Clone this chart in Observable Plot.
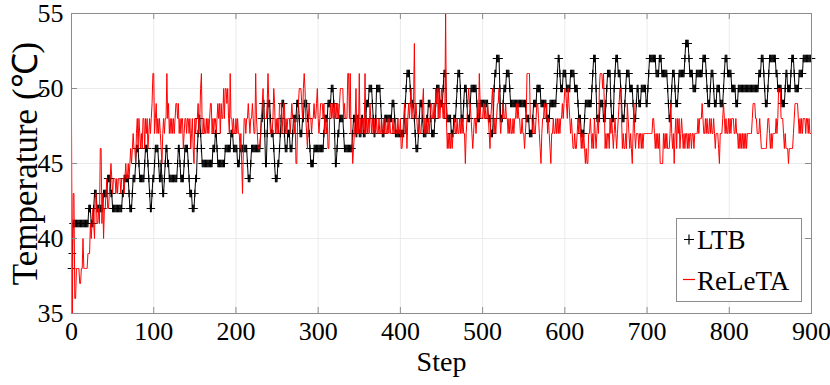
<!DOCTYPE html>
<html>
<head>
<meta charset="utf-8">
<script src="https://cdn.jsdelivr.net/npm/d3@7"></script>
<script src="https://cdn.jsdelivr.net/npm/@observablehq/plot@0.6"></script>
<style>
  html, body { margin: 0; padding: 0; background: #fff; }
  #chart { width: 830px; height: 385px; }
  .legend text { font-family: 'Liberation Serif', 'Times New Roman', serif; }
</style>
</head>
<body>
<div id="chart"></div>
<script>
// Tick values
const xTicks = [0, 100, 200, 300, 400, 500, 600, 700, 800, 900];
const yTicks = [35, 40, 45, 50, 55];
const seriesNames = ["LTB", "ReLeTA"];

// LTB temperature per step (0..900)
const ltbValues = [
38,39,41,41,41,41,41,41,41,41,
41,41,41,41,41,41,41,41,41,41,
41,42,42,42,41,41,41,42,43,43,
43,42,42,42,42,42,42,42,42,43,
43,43,43,43,44,44,44,44,43,43,
42,42,42,42,42,42,42,42,42,42,
42,42,43,43,44,44,44,44,44,44,
43,42,42,42,43,44,44,44,45,46,
46,46,45,44,44,44,44,44,44,45,
46,46,46,45,44,43,42,42,43,44,
44,45,46,46,46,46,45,44,44,45,
44,43,43,44,45,46,46,45,45,44,
44,44,44,44,44,44,44,44,44,45,
46,46,45,44,44,44,44,45,46,46,
46,46,45,44,43,43,43,42,42,42,
43,44,44,46,47,48,48,47,46,45,
45,45,45,45,45,45,45,45,45,45,
45,45,46,46,46,47,47,46,45,45,
45,45,45,45,45,45,45,46,46,46,
46,46,46,46,47,47,47,46,46,46,
46,46,45,45,45,46,46,46,46,46,
46,46,46,46,45,44,44,44,45,46,
46,46,46,46,46,46,46,46,46,46,
47,48,48,49,49,47,45,45,47,49,
49,49,48,47,47,47,46,45,44,44,
44,45,45,46,47,48,49,49,49,47,
46,46,46,47,47,47,46,46,46,47,
48,48,48,48,49,49,49,48,47,47,
47,48,48,49,49,49,49,48,48,47,
46,45,45,45,45,46,46,46,46,46,
46,46,46,46,46,46,46,47,48,48,
48,48,49,49,49,49,50,50,50,49,
47,45,45,46,47,47,48,48,48,48,
48,47,46,46,46,46,46,46,46,46,
46,46,47,48,48,48,47,47,48,48,
47,47,47,48,48,47,47,47,48,49,
49,49,50,50,50,50,49,48,47,47,
48,50,50,50,50,50,49,48,47,47,
47,48,48,48,48,48,48,48,48,48,
49,49,49,48,47,47,47,47,47,47,
47,47,47,47,47,48,49,50,51,51,
51,51,50,49,49,49,49,48,47,46,
46,46,47,48,49,49,49,48,47,47,
47,47,48,48,49,49,49,48,47,47,
47,47,48,49,50,50,50,50,49,49,
49,49,50,51,51,51,49,48,48,48,
48,48,47,47,47,48,48,48,49,50,
51,51,51,50,48,48,48,49,50,50,
50,49,48,48,48,49,50,50,50,50,
50,50,50,49,48,48,48,49,49,49,
49,49,49,49,49,49,49,48,48,48,
47,47,47,48,50,51,51,52,52,52,
52,50,48,48,48,49,50,50,50,51,
51,51,51,50,49,49,49,49,49,49,
49,49,49,49,49,49,49,49,49,49,
49,49,49,48,48,48,48,47,47,47,
47,48,49,49,49,49,50,50,50,50,
50,49,49,49,49,49,49,49,48,48,
48,48,49,49,49,49,49,49,49,49,
50,51,52,52,51,50,50,50,51,51,
51,51,50,50,50,50,50,51,51,51,
51,51,50,50,50,50,49,48,48,48,
47,47,47,47,48,49,49,49,49,49,
49,49,49,50,51,52,52,52,50,48,
48,48,48,49,49,49,49,48,48,48,
49,50,51,51,51,51,49,48,48,48,
50,51,52,52,52,51,51,51,50,49,
48,48,48,49,50,51,51,51,51,50,
50,50,50,49,48,48,48,49,50,50,
49,49,49,50,50,50,50,50,50,49,
49,50,51,52,52,52,52,52,52,52,
52,51,51,51,51,52,52,52,51,51,
51,51,51,51,51,50,49,48,48,49,
50,51,51,51,50,49,49,49,50,51,
51,51,51,51,51,51,52,53,53,53,
53,52,51,51,51,51,50,50,50,50,
51,51,51,51,51,51,51,51,52,52,
52,52,51,50,49,49,49,50,51,51,
51,50,49,49,49,50,50,50,50,49,
49,49,49,50,51,52,52,52,51,51,
51,51,51,50,50,50,50,50,49,49,
49,50,50,50,50,50,50,50,50,50,
50,50,50,50,50,50,50,50,50,50,
50,50,50,50,50,50,51,51,51,52,
52,52,51,50,49,49,49,50,51,52,
52,52,52,52,52,52,52,51,51,50,
50,50,50,50,49,49,49,49,50,51,
51,50,50,50,50,51,52,52,52,51,
50,50,50,50,50,51,51,51,51,51,
52,52,52,52,52,52,52,52,52,52,
52
];

// ReLeTA temperature per step (0..900)
const reletaValues = [
48,35,43,43,36,36,38,38,38,38,
37,37,38,38,40,38,38,38,38,38,
39,39,39,41,40,41,42,41,40,43,
43,41,41,42,41,46,46,41,43,40,
42,42,43,44,42,42,43,44,45,44,
43,44,44,44,43,44,43,44,44,44,
43,44,44,44,43,44,45,44,44,45,
44,45,46,45,46,47,46,46,45,47,
48,46,48,47,46,47,46,48,48,46,
48,47,48,46,47,48,47,48,49,51,
51,47,48,49,47,48,47,48,47,46,
45,47,48,47,48,48,51,48,49,47,
48,47,48,47,48,47,48,49,49,48,
49,47,48,47,48,48,46,47,48,48,
47,48,48,47,48,46,47,48,46,45,
48,47,48,48,49,47,48,50,51,47,
47,48,47,47,48,47,48,47,48,49,
49,47,48,47,48,48,47,48,49,48,
49,47,49,48,48,50,48,50,50,49,
50,48,47,51,48,48,47,48,47,47,
48,47,48,47,47,46,47,45,43,46,
48,48,47,48,48,49,48,47,48,48,
49,48,47,47,51,48,47,46,46,46,
47,48,49,50,48,48,48,48,49,51,
49,48,47,47,47,48,50,49,47,48,
47,48,47,49,49,49,47,48,49,49,
47,48,47,48,48,48,47,48,49,48,
48,47,48,45,45,48,49,50,50,50,
49,48,50,51,50,48,47,46,48,49,
48,48,47,48,48,49,48,48,49,50,
48,47,48,49,49,49,48,49,47,48,
47,48,46,46,48,49,48,49,48,48,
49,48,49,48,49,48,49,50,50,50,
50,48,49,48,48,48,51,51,48,51,
47,47,45,46,47,48,50,47,48,47,
51,47,48,47,48,48,47,51,47,48,
47,48,47,49,48,47,48,47,48,47,
47,48,47,47,48,47,47,48,47,47,
48,47,48,47,47,48,47,48,47,47,
47,48,47,47,48,47,47,48,47,47,
48,46,46,47,48,49,47,48,46,48,
49,48,49,50,48,49,49,53,48,49,
48,47,47,48,47,47,48,49,50,47,
48,47,48,47,48,47,48,49,49,48,
48,49,48,50,49,50,48,50,48,49,
50,49,48,49,48,55,48,46,47,46,
47,46,47,46,47,47,48,47,47,48,
47,47,48,47,48,47,48,47,47,45,
47,48,49,50,49,49,48,47,46,47,
48,48,47,48,49,48,51,49,48,48,
48,49,48,49,48,48,49,48,47,46,
48,49,50,48,47,48,47,48,49,49,
50,48,47,48,48,49,48,48,49,48,
48,47,48,47,48,47,47,48,47,48,
48,49,48,49,48,48,47,47,48,47,
47,46,47,48,51,51,51,51,48,48,
48,47,48,47,47,48,49,49,48,47,
46,45,47,48,48,49,48,48,49,47,
48,47,46,45,47,47,48,47,47,48,
47,48,47,48,47,48,48,49,48,49,
50,50,49,48,50,49,48,47,48,47,
46,46,47,46,46,47,48,47,48,47,
46,47,46,47,46,45,46,45,45,47,
47,48,47,46,47,46,48,47,46,47,
48,47,50,51,51,51,50,51,49,46,
47,46,47,47,46,48,47,48,47,46,
47,48,47,46,47,48,49,50,50,48,
46,47,46,46,47,46,49,48,47,46,
47,46,45,47,49,47,46,47,47,47,
46,47,47,46,47,46,47,47,47,47,
47,47,47,47,47,47,47,48,48,47,
46,47,46,47,46,47,45,45,45,45,
47,46,47,46,47,46,46,46,47,49,
47,46,47,45,47,48,46,48,47,48,
46,47,48,47,46,47,46,47,47,46,
47,46,47,47,46,47,47,46,47,47,
47,47,48,47,48,48,48,49,48,47,
47,48,47,48,47,47,48,47,48,47,
47,48,47,46,47,47,47,46,45,47,
47,47,48,49,48,47,48,47,47,48,
47,48,47,48,48,48,47,47,48,47,
47,46,47,46,47,46,47,46,47,46,
47,46,47,47,47,47,47,47,48,49,
49,49,48,48,47,47,47,48,47,46,
46,46,46,46,46,46,47,48,48,47,
46,47,46,47,47,47,47,48,47,48,
50,50,50,48,48,48,47,46,47,46,
46,46,45,46,46,46,46,46,47,48,
49,49,49,49,48,47,48,47,48,47,
48,48,48,47,48,48,47,48,47,47,
47
];

const ltb = ltbValues.map((v, i) => ({step: i, temp: v}));
const releta = reletaValues.map((v, i) => ({step: i, temp: v}));

const W = 830, H = 385;
const mL = 71, mR = 19, mT = 13, mB = 72;
const innerH = H - mT - mB, innerW = W - mL - mR;
const font = "'Liberation Serif', 'Times New Roman', serif";
const axisColor = "#8c8c8c";
const gridColor = "#ebebeb";

const plot = Plot.plot({
  width: W,
  height: H,
  marginLeft: mL,
  marginRight: mR,
  marginTop: mT,
  marginBottom: mB,
  x: {domain: [0, 900]},
  y: {domain: [35, 55]},
  style: {fontFamily: font, fontSize: "26px", background: "#fff", color: "#000"},
  marks: [
    Plot.ruleX(xTicks, {x: d => d, stroke: gridColor, strokeWidth: 1}),
    Plot.ruleY(yTicks, {y: d => d, stroke: gridColor, strokeWidth: 1}),
    Plot.line(ltb, {x: "step", y: "temp", stroke: "#000", strokeWidth: 1}),
    Plot.dot(ltb, {x: "step", y: "temp", symbol: "plus", r: 2.6, stroke: "#000", fill: "none", strokeWidth: 1.1}),
    Plot.line(releta, {x: "step", y: "temp", stroke: "#ff0000", strokeWidth: 1}),
    Plot.frame({stroke: axisColor, strokeWidth: 1}),
    // inward ticks
    Plot.ruleX(xTicks, {x: d => d, stroke: axisColor, insetTop: innerH - 6}),
    Plot.ruleX(xTicks, {x: d => d, stroke: axisColor, insetBottom: innerH - 6}),
    Plot.ruleY(yTicks, {y: d => d, stroke: axisColor, insetRight: innerW - 6}),
    Plot.ruleY(yTicks, {y: d => d, stroke: axisColor, insetLeft: innerW - 6}),
    Plot.axisX({ticks: xTicks, tickSize: 0, tickPadding: 8, label: null, fontSize: 26, fill: "#000"}),
    Plot.axisY({ticks: yTicks, tickSize: 0, tickPadding: 8, label: null, fontSize: 26, fill: "#000"}),
    Plot.text(["Step"], {text: d => d, frameAnchor: "bottom", dy: 57, fontSize: 28, fill: "#000"}),
    Plot.text(["Temperature (\u2103)"], {text: d => d, frameAnchor: "left", textAnchor: "middle", rotate: -90, dx: -46, fontSize: 35, fill: "#000"})
  ]
});

document.getElementById("chart").appendChild(plot);

// Legend box (MATLAB-style, inside plot at lower right)
const svg = d3.select(plot);
const lg = svg.append("g").attr("class", "legend");
lg.append("rect").attr("x", 676.5).attr("y", 218.5).attr("width", 125).attr("height", 83)
  .attr("fill", "#fff").attr("stroke", axisColor).attr("stroke-width", 1);
lg.append("path").attr("d", "M684,239.5h10M689,234.5v10").attr("stroke", "#000").attr("stroke-width", 1.2).attr("fill", "none");
lg.append("text").attr("x", 697).attr("y", 249).style("font-family", font).style("font-size", "27px")
  .attr("fill", "#000").attr("text-anchor", "start").text(seriesNames[0]);
lg.append("path").attr("d", "M683,279.5h12").attr("stroke", "#ff0000").attr("stroke-width", 1.2).attr("fill", "none");
lg.append("text").attr("x", 697).attr("y", 290).style("font-family", font).style("font-size", "27px")
  .attr("fill", "#000").attr("text-anchor", "start").text(seriesNames[1]);
</script>
</body>
</html>
